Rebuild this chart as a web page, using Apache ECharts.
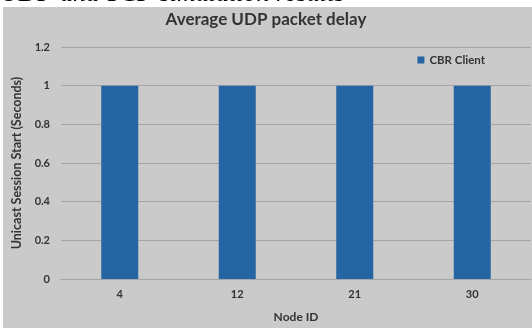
<!DOCTYPE html>
<html>
<head>
<meta charset="utf-8">
<style>
  html, body { margin: 0; padding: 0; background: #ffffff; }
  #chart { width: 532px; height: 328px; }
</style>
<script src="https://cdn.jsdelivr.net/npm/echarts@6/dist/echarts.min.js"></script>
</head>
<body>
<div id="chart"></div>
<script>
// Node IDs and the session start time for each CBR client
const nodeIds = ['4', '12', '21', '30'];
const cbrClient = [1, 1, 1, 1];
const yTicks = [0, 0.2, 0.4, 0.6, 0.8, 1, 1.2];

const font = 'Lato, "Open Sans", sans-serif';
const chart = echarts.init(document.getElementById('chart'), null, { renderer: 'canvas' });

chart.setOption({
  animation: false,
  backgroundColor: '#ffffff',
  graphic: [
    {
      type: 'text',
      z: 0,
      style: {
        text: 'UDP and TCP simulation results',
        x: 0, y: 7,
        verticalAlign: 'bottom',
        font: 'italic 26px "Liberation Serif", "DejaVu Serif", serif',
        fill: '#000000'
      }
    },
    {
      type: 'rect',
      z: 1,
      shape: { x: 3, y: 7, width: 529, height: 321 },
      style: { fill: '#cacaca' }
    },
    {
      type: 'text',
      z: 2,
      style: {
        text: 'Average UDP packet delay',
        x: 266, y: 20,
        align: 'center', verticalAlign: 'middle',
        font: 'bold 17px ' + font,
        fill: '#333333'
      }
    }
  ],
  legend: {
    data: ['CBR Client'],
    right: 42,
    top: 49,
    itemWidth: 7,
    itemHeight: 7,
    itemGap: 4,
    icon: 'rect',
    textStyle: { fontFamily: font, fontWeight: 'bold', fontSize: 11.5, color: '#333333' },
    z: 5
  },
  grid: { left: 61, right: 1, top: 47, bottom: 45, containLabel: false },
  xAxis: {
    type: 'category',
    data: nodeIds,
    name: 'Node ID',
    nameLocation: 'middle',
    nameGap: 32,
    nameTextStyle: { fontFamily: font, fontWeight: 'bold', fontSize: 12, color: '#333333' },
    axisLine: { show: true, lineStyle: { color: '#a6a6a6' } },
    axisTick: { show: false },
    axisLabel: { margin: 10, fontFamily: font, fontWeight: 'bold', fontSize: 11, color: '#333333' },
    z: 5
  },
  yAxis: {
    type: 'value',
    min: 0,
    max: 1.2,
    interval: 0.2,
    name: 'Unicast Session Start (Seconds)',
    nameLocation: 'middle',
    nameGap: 38,
    nameTextStyle: { fontFamily: font, fontWeight: 'bold', fontSize: 12.5, color: '#333333' },
    axisLine: { show: false },
    axisTick: { show: false },
    splitLine: { lineStyle: { color: '#a6a6a6', width: 1 } },
    axisLabel: {
      margin: 11,
      fontFamily: font, fontWeight: 'bold', fontSize: 11, color: '#333333',
      formatter: v => {
        const t = yTicks.find(x => Math.abs(x - v) < 1e-9);
        return t === undefined ? '' : String(t);
      }
    },
    z: 5
  },
  series: [
    {
      name: 'CBR Client',
      type: 'bar',
      data: cbrClient,
      barWidth: '31.5%',
      itemStyle: { color: '#2565a3' },
      z: 5
    }
  ]
});
</script>
</body>
</html>
